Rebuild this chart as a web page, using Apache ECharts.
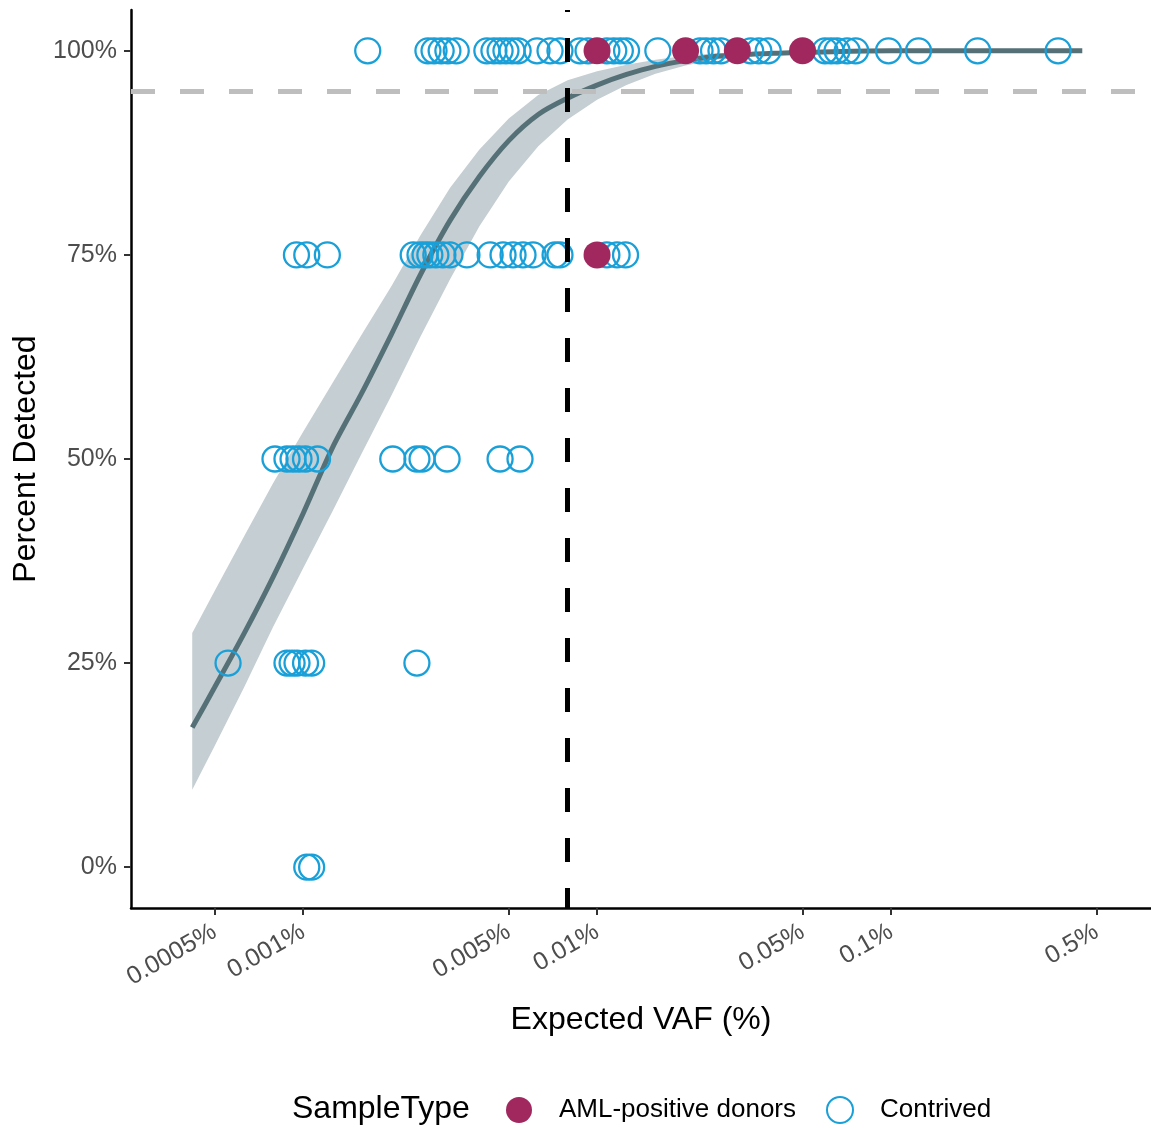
<!DOCTYPE html>
<html>
<head>
<meta charset="utf-8">
<title>Percent detected vs expected VAF</title>
<script src="https://cdn.jsdelivr.net/npm/echarts@6/dist/echarts.min.js"></script>
<style>
  html, body { margin: 0; padding: 0; background: #fff; }
  #chart { width: 1151px; height: 1128px; }
</style>
</head>
<body>
<div id="chart"></div>
<script>
// expected VAF (%) of contrived samples, grouped by percent detected
const contrived100 = [0.00166, 0.00266, 0.00279, 0.00295, 0.00311, 0.00332, 0.00422, 0.00446, 0.00468, 0.0049,
  0.00514, 0.00539, 0.00625, 0.00692, 0.00748, 0.00875, 0.00932, 0.0108, 0.0114, 0.012, 0.0126, 0.0161,
  0.0224, 0.0235, 0.0249, 0.0264, 0.0333, 0.0355, 0.0382, 0.0596, 0.0625, 0.0655, 0.0709, 0.0758,
  0.098, 0.124, 0.197, 0.37]
const contrived75 = [0.00095, 0.00103, 0.00121, 0.00237, 0.0025, 0.0026, 0.0027, 0.00283, 0.00299, 0.00316,
  0.00361, 0.00433, 0.00479, 0.00518, 0.0056, 0.00606, 0.0072, 0.00748, 0.0108, 0.0117, 0.0125]
const contrived50 = [0.000803, 0.000882, 0.000925, 0.000969, 0.00102, 0.00112, 0.00202, 0.00244, 0.00254,
  0.00309, 0.00468, 0.00547]
const contrived25 = [0.000556, 0.000882, 0.000918, 0.000954, 0.00102, 0.00107, 0.00244]
const contrived0 = [0.00103, 0.00107]

// AML-positive donors
const amlVaf = [0.01, 0.02, 0.03, 0.05, 0.01]
const amlPct = [100, 100, 100, 100, 75]

// logistic fit and its confidence band
const fitVaf = [0.00042, 0.0005, 0.00063, 0.00079, 0.001, 0.00126, 0.00158, 0.002, 0.00251, 0.00316, 0.00398,
  0.00501, 0.00631, 0.00794, 0.01, 0.0126, 0.0158, 0.02, 0.0251, 0.0398, 0.0631, 0.1, 0.158, 0.251, 0.447]
const fitPct = [17.1, 22.0, 28.6, 35.5, 43.3, 51.4, 58.0, 65.3, 72.6, 79.2, 84.6, 89.0, 92.2, 94.2, 95.8,
  97.1, 98.1, 98.8, 99.3, 99.7, 99.9, 100, 100, 100, 100]
const bandLow = [9.5, 14.8, 22.0, 29.4, 36.6, 43.6, 50.6, 57.8, 65.0, 72.0, 78.5, 84.0, 88.3, 91.6, 94.0,
  95.8, 97.2, 98.2, 98.9, 99.6, 99.9, 100, 100, 100, 100]
const bandHigh = [28.7, 33.8, 40.5, 47.0, 53.3, 59.3, 65.2, 71.2, 77.4, 83.2, 87.9, 91.7, 94.6, 96.4, 97.5,
  98.3, 98.9, 99.4, 99.7, 99.9, 100, 100, 100, 100, 100]

const lodVaf = 0.008
const targetPct = 95

const xTickVals = [0.0005, 0.001, 0.005, 0.01, 0.05, 0.1, 0.5]
const xTickLabels = ['0.0005%', '0.001%', '0.005%', '0.01%', '0.05%', '0.1%', '0.5%']
const yTickVals = [0, 25, 50, 75, 100]

const FONT = "'Liberation Sans', Arial, sans-serif"
const lg = v => Math.log10(v)

const contrivedData = []
;[[contrived100, 100], [contrived75, 75], [contrived50, 50], [contrived25, 25], [contrived0, 0]].forEach(([vals, pct]) => {
  vals.forEach(v => contrivedData.push([lg(v), pct]))
})

const bandData = fitVaf.map((v, i) => [lg(v), bandLow[i], bandHigh[i]])

// the band is one polygon: upper edge left to right, then lower edge back
function renderBand(params, api) {
  if (params.dataIndex !== 0) return null
  const upper = bandData.map(d => api.coord([d[0], d[2]]))
  const lower = bandData.map(d => api.coord([d[0], d[1]])).reverse()
  return {
    type: 'polygon',
    shape: { points: upper.concat(lower) },
    style: { fill: '#C5CED2' },
    silent: true
  }
}

const chart = echarts.init(document.getElementById('chart'))
chart.setOption({
  animation: false,
  backgroundColor: '#fff',
  textStyle: { fontFamily: FONT },
  grid: { left: 131, right: 0, top: 10, bottom: 220, outerBoundsMode: 'none', containLabel: false },
  legend: {
    data: ['AML-positive donors', 'Contrived'],
    left: 501,
    top: 1091,
    itemWidth: 26,
    itemHeight: 26,
    itemGap: 30,
    textStyle: { fontSize: 26, color: '#000', fontFamily: FONT, padding: [0, 0, 0, 22] }
  },
  graphic: [{
    type: 'text',
    left: 292,
    top: 1093,
    style: { text: 'SampleType', fontSize: 32, fill: '#000', fontFamily: FONT }
  }],
  xAxis: {
    type: 'value',
    min: -3.585,
    max: -0.116,
    name: 'Expected VAF (%)',
    nameLocation: 'middle',
    nameGap: 96,
    nameTextStyle: { fontSize: 32, color: '#000', fontFamily: FONT },
    splitLine: { show: false },
    axisLine: { onZero: false, lineStyle: { color: '#000', width: 2.5 } },
    axisTick: { customValues: xTickVals.map(lg), length: 7, lineStyle: { color: '#333', width: 2 } },
    axisLabel: {
      customValues: xTickVals.map(lg),
      rotate: 30,
      margin: 22,
      fontSize: 25,
      color: '#4D4D4D',
      formatter: v => {
        const i = xTickVals.findIndex(t => Math.abs(lg(t) - v) < 1e-6)
        return i >= 0 ? xTickLabels[i] : ''
      }
    }
  },
  yAxis: {
    type: 'value',
    min: -5,
    max: 105,
    name: 'Percent Detected',
    nameLocation: 'middle',
    nameGap: 86,
    nameTextStyle: { fontSize: 32, color: '#000', fontFamily: FONT },
    splitLine: { show: false },
    axisLine: { show: true, onZero: false, lineStyle: { color: '#000', width: 2.5 } },
    axisTick: { show: true, customValues: yTickVals, length: 7, lineStyle: { color: '#333', width: 2 } },
    axisLabel: { customValues: yTickVals, margin: 14, fontSize: 25, color: '#4D4D4D', formatter: v => v + '%' }
  },
  series: [
    {
      name: 'band',
      type: 'custom',
      renderItem: renderBand,
      data: bandData,
      encode: { x: 0, y: [1, 2] },
      z: 1,
      silent: true
    },
    {
      name: 'fit',
      type: 'line',
      data: fitVaf.map((v, i) => [lg(v), fitPct[i]]),
      showSymbol: false,
      smooth: 0.3,
      lineStyle: { color: '#557177', width: 5 },
      z: 2,
      markLine: {
        silent: true,
        symbol: 'none',
        label: { show: false },
        data: [
          { yAxis: targetPct, lineStyle: { color: '#BEBEBE', width: 5, type: [24, 25] } },
          { xAxis: lg(lodVaf), lineStyle: { color: '#000', width: 5, type: [24, 26], dashOffset: 4 } }
        ]
      }
    },
    {
      name: 'Contrived',
      type: 'scatter',
      data: contrivedData,
      symbol: 'circle',
      symbolSize: 25,
      itemStyle: { color: 'rgba(255,255,255,0)', borderColor: '#1AA0D8', borderWidth: 2.3, opacity: 1 },
      z: 4
    },
    {
      name: 'AML-positive donors',
      type: 'scatter',
      data: amlVaf.map((v, i) => [lg(v), amlPct[i]]),
      symbol: 'circle',
      symbolSize: 27,
      itemStyle: { color: '#A0285F', opacity: 1 },
      z: 5
    }
  ]
})
</script>
</body>
</html>
